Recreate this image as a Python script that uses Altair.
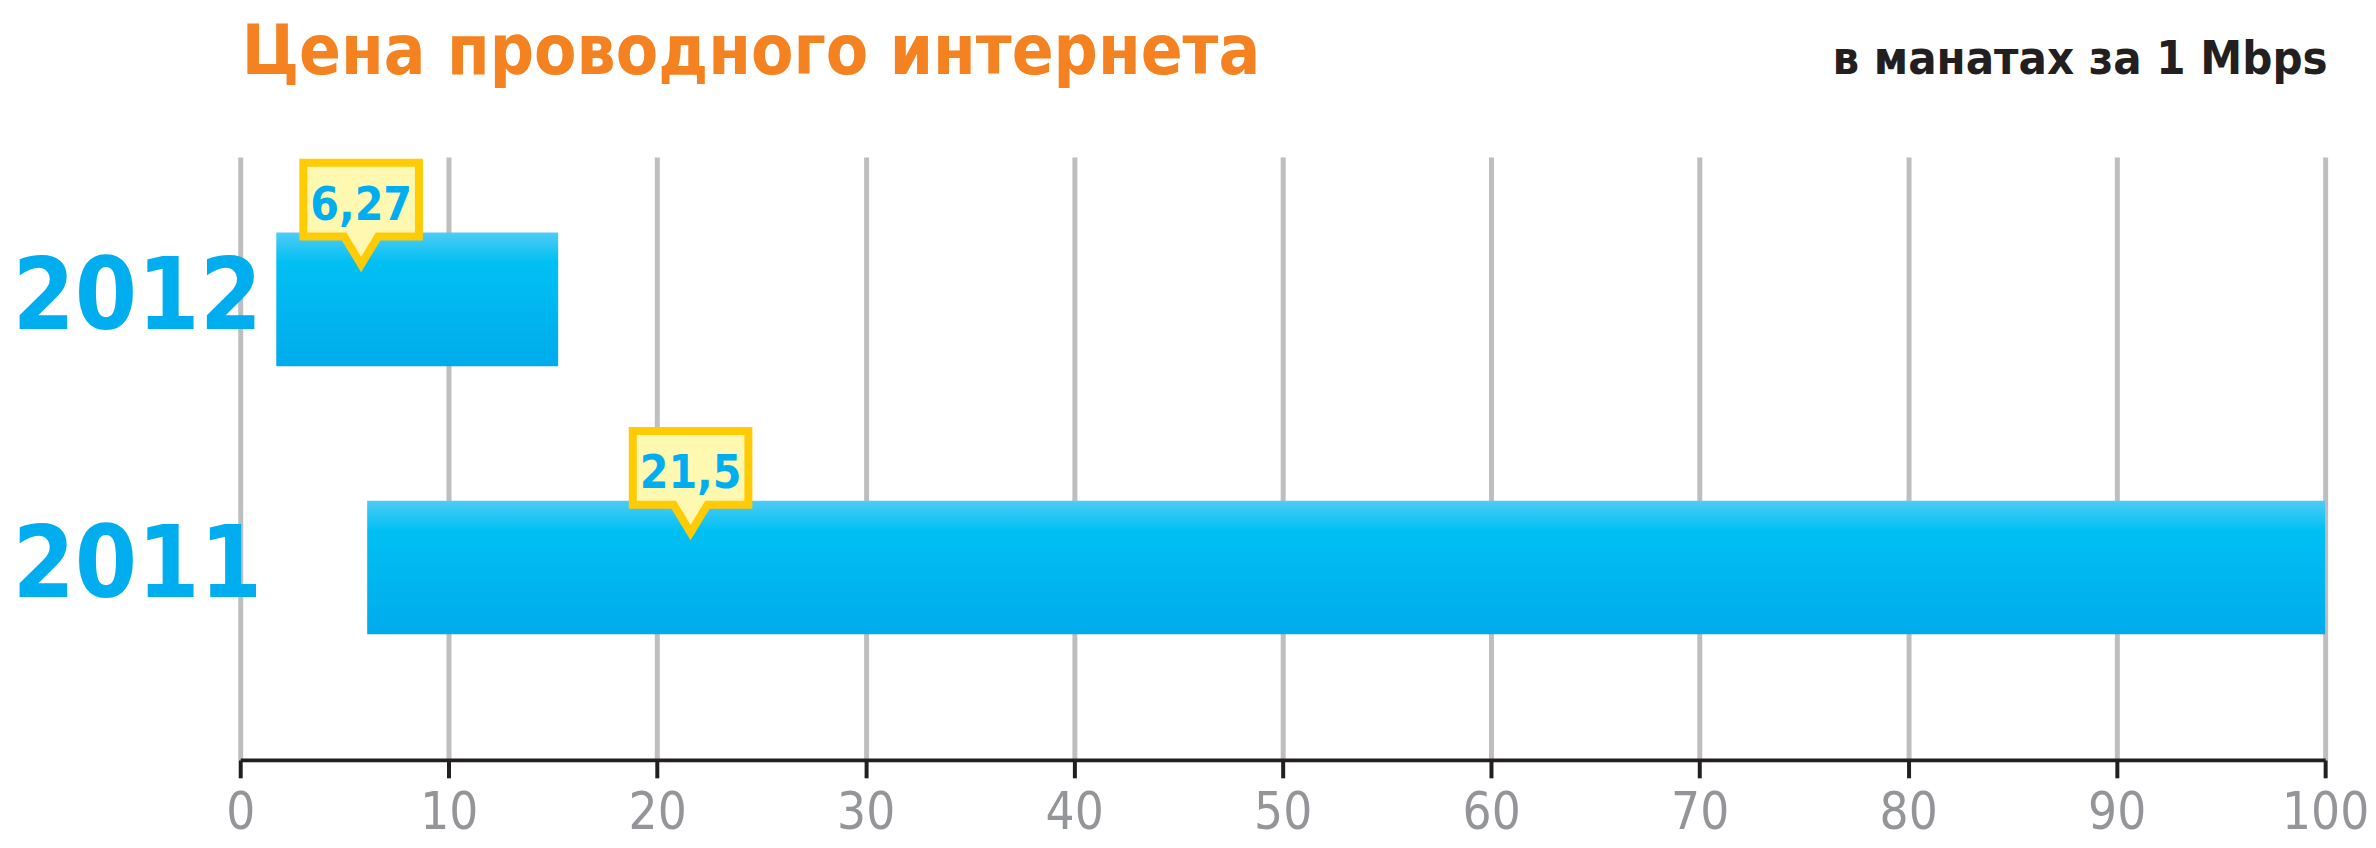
import altair as alt
import pandas as pd

# ---- data ----
years = ["2012", "2011"]
bar_start = [1.73, 6.09]
bar_end = [15.25, 100.0]
price_labels = ["6,27", "21,5"]
pointer_x = [5.8, 21.6]
tick_values = [0, 10, 20, 30, 40, 50, 60, 70, 80, 90, 100]

title_text = "Цена проводного интернета"
unit_text = "в манатах за 1 Mbps"

df = pd.DataFrame({
    "year": years,
    "start": bar_start,
    "end": bar_end,
    "label": price_labels,
    "pointer": pointer_x,
})

FONT = "Liberation Sans Narrow, DejaVu Sans Condensed, sans-serif"
BLUE = "#00AEEF"

PLOT_W = 2092
PLOT_H = 605

x_scale = alt.Scale(domain=[0, 100], nice=False, zero=False)
y_scale = alt.Scale(domain=years, paddingInner=0.502, paddingOuter=0.3755, align=0.376)

x_axis = alt.Axis(
    values=tick_values, format="d",
    grid=True, gridColor="#BCBEC0", gridWidth=5,
    domainColor="#231F20", domainWidth=4,
    tickColor="#231F20", tickWidth=4, tickSize=18,
    labelFont=FONT, labelFontSize=51, labelColor="#939598",
    labelPadding=11, labelFlush=False, labelOverlap=False,
    title=unit_text, titleX=PLOT_W + 2, titleY=-689,
    titleAlign="right", titleBaseline="alphabetic",
    titleFont=FONT, titleFontSize=47, titleFontWeight="bold",
    titleColor="#231F20", titleLimit=3000,
)

y_axis = alt.Axis(
    domain=False, ticks=False, grid=False,
    labelFont=FONT, labelFontSize=100, labelFontWeight="bold",
    labelColor=BLUE, labelAlign="left", labelBaseline="middle",
    labelPadding=229, labelLimit=2000,
    title=title_text, titleX=1, titleY=-84, titleAngle=0,
    titleAlign="left", titleBaseline="alphabetic",
    titleFont=FONT, titleFontSize=69, titleFontWeight="bold",
    titleColor="#F58220", titleLimit=3000,
)

gradient = alt.Gradient(
    gradient="linear",
    stops=[
        alt.GradientStop(color="#4ECCF6", offset=0),
        alt.GradientStop(color="#00C0F3", offset=0.22),
        alt.GradientStop(color="#00ABEC", offset=1),
    ],
    x1=0, x2=0, y1=0, y2=1,
)

base = alt.Chart(df)

bars = base.mark_bar(color=gradient).encode(
    x=alt.X("start:Q", scale=x_scale, axis=x_axis),
    x2="end:Q",
    y=alt.Y("year:N", scale=y_scale, sort=years, axis=y_axis),
)

CALLOUT = ("M -0.58 -1.37 L 0.58 -1.37 L 0.58 -0.63 L 0.17 -0.63 "
           "L 0 -0.35 L -0.17 -0.63 L -0.58 -0.63 Z")

callouts = base.mark_point(
    shape=CALLOUT, size=40000, filled=True, fill="#FFF8B0",
    stroke="#FFCB05", strokeWidth=8, strokeJoin="miter",
    opacity=1, fillOpacity=1, strokeOpacity=1,
).encode(
    x=alt.X("pointer:Q", scale=x_scale, axis=x_axis),
    y=alt.Y("year:N", scale=y_scale, sort=years, axis=y_axis),
)

labels = base.mark_text(
    dy=-80, baseline="alphabetic", align="center",
    font=FONT, fontSize=46, fontWeight="bold", color=BLUE,
).encode(
    x=alt.X("pointer:Q", scale=x_scale, axis=x_axis),
    y=alt.Y("year:N", scale=y_scale, sort=years, axis=y_axis),
    text="label:N",
)

chart = alt.layer(bars, callouts, labels).properties(
    width=PLOT_W,
    height=PLOT_H,
    autosize=alt.AutoSizeParams(type="none"),
    padding={"left": 233, "top": 148, "right": 43, "bottom": 87},
    background="white",
).configure_view(stroke=None)

chart.save("out.html", embed_options={"renderer": "svg", "actions": False})
